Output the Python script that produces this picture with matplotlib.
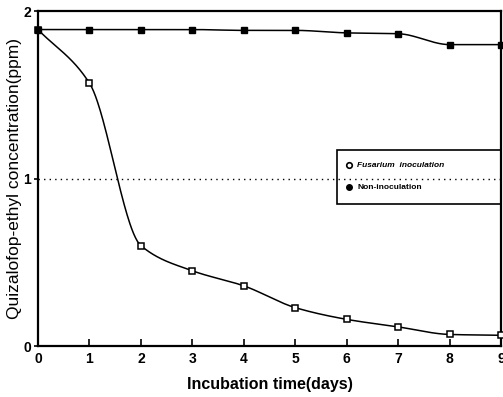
import numpy as np
import matplotlib.pyplot as plt
from matplotlib.patches import Rectangle

plt.rcParams['font.family'] = ['Liberation Sans', 'DejaVu Sans']

days = [0, 1, 2, 3, 4, 5, 6, 7, 8, 9]
fusarium = [1.89, 1.57, 0.60, 0.45, 0.36, 0.23, 0.16, 0.115, 0.07, 0.065]
non_inoc = [1.89, 1.89, 1.89, 1.89, 1.885, 1.885, 1.87, 1.865, 1.80, 1.80]


def pchip(x, y, xs):
    # monotone cubic interpolation for the smooth hand-drawn look
    x = np.asarray(x, float)
    y = np.asarray(y, float)
    h = np.diff(x)
    d = np.diff(y) / h
    m = np.zeros_like(y)
    for i in range(1, len(y) - 1):
        if d[i - 1] * d[i] > 0:
            w1 = 2 * h[i] + h[i - 1]
            w2 = h[i] + 2 * h[i - 1]
            m[i] = (w1 + w2) / (w1 / d[i - 1] + w2 / d[i])
    m[0] = d[0]
    m[-1] = d[-1]
    idx = np.clip(np.searchsorted(x, xs) - 1, 0, len(x) - 2)
    t = (xs - x[idx]) / h[idx]
    h00 = 2 * t**3 - 3 * t**2 + 1
    h10 = t**3 - 2 * t**2 + t
    h01 = -2 * t**3 + 3 * t**2
    h11 = t**3 - t**2
    return h00 * y[idx] + h10 * h[idx] * m[idx] + h01 * y[idx + 1] + h11 * h[idx] * m[idx + 1]


fig = plt.figure(figsize=(5.03, 3.97), dpi=100)
ax = fig.add_axes([0.0755, 0.128, 0.921, 0.844])

xs = np.linspace(0, 9, 500)
ax.plot(xs, pchip(days, fusarium, xs), color='black', lw=1.1, zorder=2)
ax.plot(xs, pchip(days, non_inoc, xs), color='black', lw=1.1, zorder=2)
ax.plot(days, fusarium, 's', ms=5, mfc='white', mec='black', mew=1.1, zorder=3, clip_on=False)
ax.plot(days, non_inoc, 's', ms=5, mfc='black', mec='black', zorder=3, clip_on=False)

ax.axhline(1, color='black', lw=1, ls=(0, (1, 3)), zorder=4)

# legend box
ax.add_patch(Rectangle((5.8, 0.85), 3.2, 0.32, fill=False, lw=1.2, ec='black', zorder=5))
ax.plot([6.05], [1.08], 'o', ms=4, mfc='white', mec='black', mew=1.2, zorder=6)
ax.text(6.2, 1.08, 'Fusarium  inoculation', fontsize=6, fontweight='bold', style='italic', va='center', zorder=6)
ax.plot([6.05], [0.95], 'o', ms=4, mfc='black', mec='black', zorder=6)
ax.text(6.2, 0.95, 'Non-inoculation', fontsize=6, fontweight='bold', va='center', zorder=6)

ax.set_xlim(0, 9)
ax.set_ylim(0, 2)
ax.set_xticks(days)
ax.set_yticks([0, 1, 2])
ax.tick_params(axis='x', direction='in', length=5, width=1.2, labelsize=10, pad=4)
ax.tick_params(axis='y', direction='out', length=3, width=1.2, labelsize=10, pad=2)
for lab in ax.get_xticklabels() + ax.get_yticklabels():
    lab.set_fontweight('bold')
for s in ax.spines.values():
    s.set_linewidth(1.6)

ax.set_xlabel('Incubation time(days)', fontsize=11.5, fontweight='bold', labelpad=8)
ax.set_ylabel('Quizalofop-ethyl concentration(ppm)', fontsize=12.5, labelpad=1)

fig.savefig('out.png', dpi=100)
